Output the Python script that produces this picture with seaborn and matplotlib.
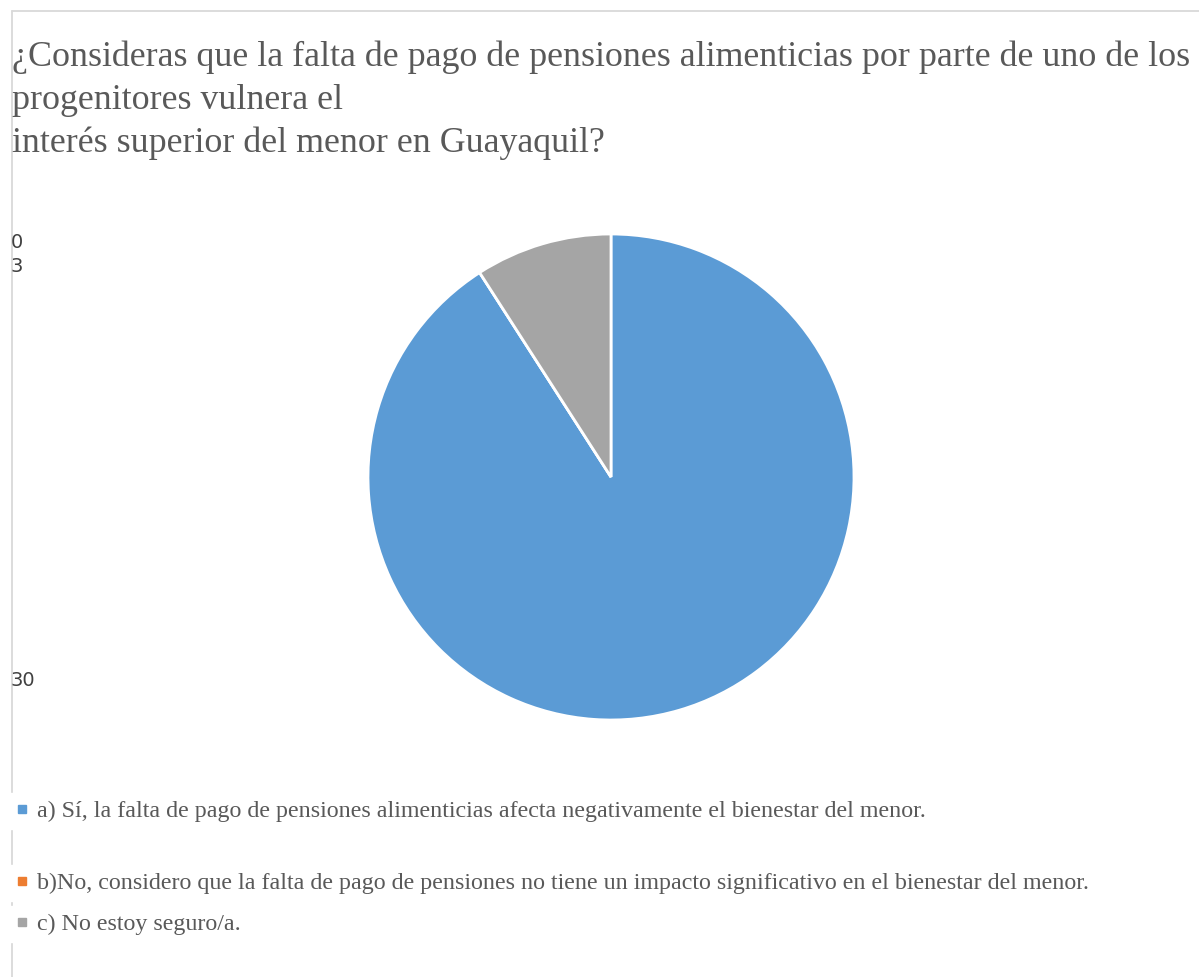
import matplotlib
matplotlib.use("Agg")
import matplotlib.pyplot as plt
import seaborn as sns
from matplotlib.lines import Line2D

sns.set_style("white")
plt.rcParams["font.family"] = ["Liberation Serif", "DejaVu Serif"]

# Survey answers and counts
categories = [
    "a) Sí, la falta de pago de pensiones alimenticias afecta negativamente el bienestar del menor.",
    "b)No, considero que la falta de pago de pensiones no tiene un impacto significativo en el bienestar del menor.",
    "c) No estoy seguro/a.",
]
values = [30, 0, 3]
colors = ["#5B9BD5", "#ED7D31", "#A5A5A5"]
title = ("¿Consideras que la falta de pago de pensiones alimenticias por parte de uno de los\n"
         "progenitores vulnera el\n"
         "interés superior del menor en Guayaquil?")

W, H = 1199, 977
fig = plt.figure(figsize=(W / 100, H / 100), dpi=100)

# frame lines (top and left)
fig.add_artist(Line2D([12 / W, 1], [1 - 11 / H, 1 - 11 / H], color="#D9D9D9", lw=1.3, zorder=0))
fig.add_artist(Line2D([12 / W, 12 / W], [0, 1 - 11 / H], color="#D9D9D9", lw=1.3, zorder=0))

# pie
cx, cy, r = 611, 477, 243
ax = fig.add_axes([(cx - r) / W, 1 - (cy + r) / H, 2 * r / W, 2 * r / H])
ax.pie(values, colors=colors, startangle=90, counterclock=False,
       wedgeprops=dict(edgecolor="white", linewidth=2))
ax.set_xlim(-1, 1)
ax.set_ylim(-1, 1)
ax.axis("off")

# title
fig.text(12 / W, 1 - 41 / H, title, ha="left", va="top", fontsize=25.8,
         color="#595959", linespacing=1.37)

# data labels stacked at the left edge
label_pos = {0: 242, 3: 266, 30: 680}
for v in values:
    fig.text(11 / W, 1 - label_pos[v] / H, str(v), ha="left", va="center",
             fontsize=14, color="#404040", family="DejaVu Sans")

# legend entries, each on its own row
rows = [811, 883, 924]
for cat, col, yp in zip(categories, colors, rows):
    h = Line2D([], [], marker="s", ls="", color=col, markersize=6)
    fig.legend([h], [cat], loc="center left", bbox_to_anchor=(8 / W, 1 - yp / H),
               frameon=True, facecolor="white", edgecolor="white", framealpha=1,
               fancybox=False, borderaxespad=0, borderpad=0.3, handlelength=0.55,
               handletextpad=0.35, fontsize=17.3, labelcolor="#595959")

fig.savefig("out.png", dpi=100)
